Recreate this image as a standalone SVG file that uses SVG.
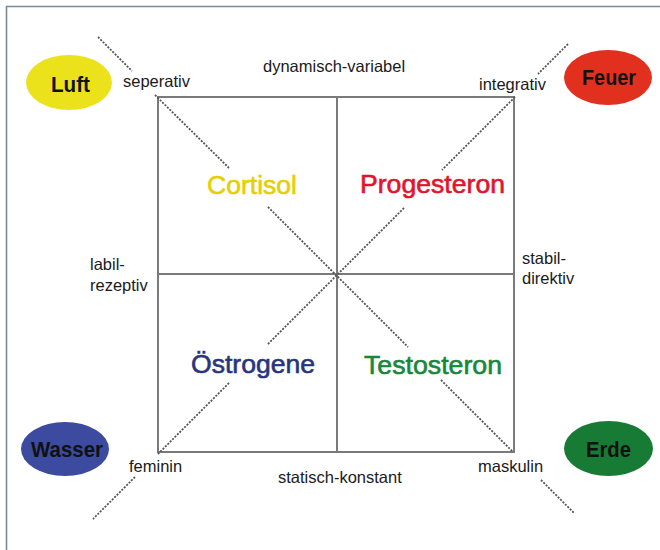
<svg xmlns="http://www.w3.org/2000/svg" width="660" height="550" viewBox="0 0 660 550">
<style>
.frame{stroke:#7d8b99;stroke-width:1.6;fill:none}
.grid{stroke:#7a7a7a;stroke-width:2;fill:none}
.dash{stroke:#555;stroke-width:1.8;stroke-dasharray:2 1.4;fill:none}
.lbl{font-family:"Liberation Sans",Arial,sans-serif;font-size:16.5px;fill:#1a1a1a}
.el{font-family:"Liberation Sans",Arial,sans-serif;font-size:22px;font-weight:bold;fill:#111;text-anchor:middle}
.hm{font-family:"Liberation Sans",Arial,sans-serif;font-size:26px;stroke-width:0.6}
</style>
<rect width="660" height="550" fill="#fff"/>
<path class="frame" d="M6.5 550 V6.5 H660"/>

<g id="connectors">
  <rect class="grid" x="158" y="97" width="356" height="355"/>
  <line class="grid" x1="337" y1="97" x2="337" y2="452"/>
  <line class="grid" x1="158" y1="274" x2="514" y2="274"/>
  <line class="dash" x1="98" y1="37" x2="132" y2="71"/>
  <line class="dash" x1="155" y1="95" x2="229" y2="168"/>
  <line class="dash" x1="268" y1="207" x2="408" y2="347"/>
  <line class="dash" x1="441" y1="380" x2="513" y2="452"/>
  <line class="dash" x1="541" y1="480" x2="574" y2="513"/>
  <line class="dash" x1="568" y1="44" x2="538" y2="74"/>
  <line class="dash" x1="515" y1="97" x2="442" y2="170"/>
  <line class="dash" x1="404" y1="208" x2="267" y2="345"/>
  <line class="dash" x1="229" y1="383" x2="158" y2="454"/>
  <line class="dash" x1="135" y1="477" x2="93" y2="519"/>
</g>

<g id="luft">
  <ellipse cx="69" cy="82.5" rx="43" ry="27.5" fill="#ece21c"/>
  <text class="el" x="70.5" y="92" textLength="39" lengthAdjust="spacingAndGlyphs">Luft</text>
</g>
<g id="feuer">
  <ellipse cx="608" cy="77.5" rx="44" ry="27.5" fill="#e2301f"/>
  <text class="el" x="609" y="84.5" textLength="54" lengthAdjust="spacingAndGlyphs">Feuer</text>
</g>
<g id="wasser">
  <ellipse cx="65" cy="449" rx="44" ry="27" fill="#3c4aa0"/>
  <text class="el" x="67" y="456.5" textLength="72" lengthAdjust="spacingAndGlyphs">Wasser</text>
</g>
<g id="erde">
  <ellipse cx="608.5" cy="448.5" rx="44.5" ry="27.5" fill="#177b35"/>
  <text class="el" x="608.5" y="457" textLength="45" lengthAdjust="spacingAndGlyphs">Erde</text>
</g>

<g id="cortisol"><text class="hm" x="207" y="194" fill="#e6cf00" stroke="#e6cf00" textLength="90" lengthAdjust="spacingAndGlyphs">Cortisol</text></g>
<g id="progesteron"><text class="hm" x="360" y="193" fill="#e2142c" stroke="#e2142c" textLength="145" lengthAdjust="spacingAndGlyphs">Progesteron</text></g>
<g id="oestrogene"><text class="hm" x="191" y="373" fill="#28357c" stroke="#28357c" textLength="124" lengthAdjust="spacingAndGlyphs">Östrogene</text></g>
<g id="testosteron"><text class="hm" x="364" y="374" fill="#18873a" stroke="#18873a" textLength="138" lengthAdjust="spacingAndGlyphs">Testosteron</text></g>

<g id="labels">
  <text class="lbl" x="123" y="87">seperativ</text>
  <text class="lbl" x="263" y="72">dynamisch-variabel</text>
  <text class="lbl" x="479" y="90">integrativ</text>
  <text class="lbl" x="90" y="270">labil-</text>
  <text class="lbl" x="90" y="291">rezeptiv</text>
  <text class="lbl" x="522" y="264">stabil-</text>
  <text class="lbl" x="522" y="284">direktiv</text>
  <text class="lbl" x="129" y="472">feminin</text>
  <text class="lbl" x="278" y="483">statisch-konstant</text>
  <text class="lbl" x="478" y="472">maskulin</text>
</g>
</svg>
